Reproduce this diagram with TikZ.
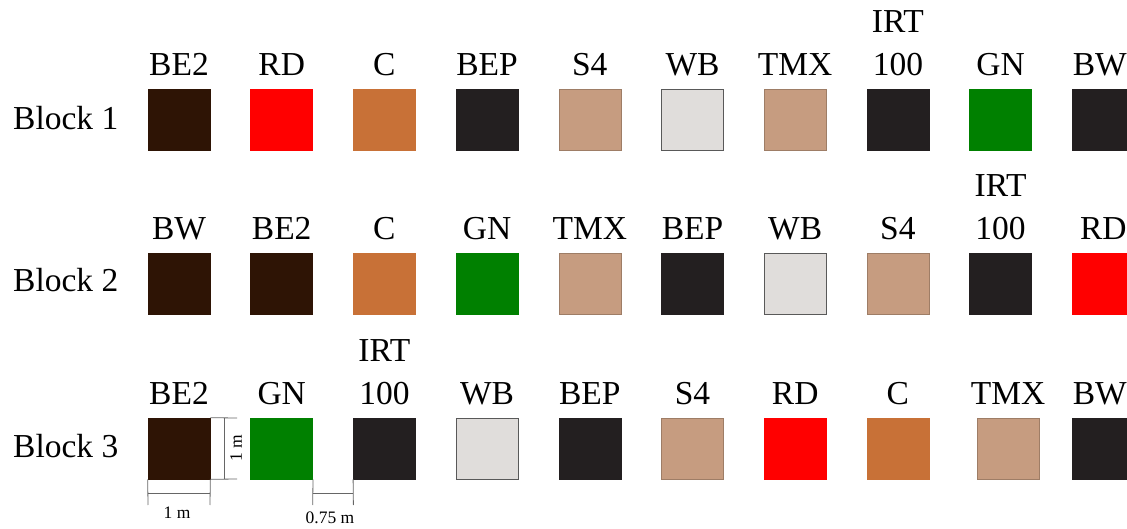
\documentclass[tikz,border=0pt]{standalone}
\usepackage{fontspec}
\setmainfont{Liberation Serif}
\usetikzlibrary{positioning}
\definecolor{be2col}{RGB}{46,20,5}
\definecolor{rdcol}{RGB}{255,0,0}
\definecolor{ccol}{RGB}{200,113,55}
\definecolor{blkcol}{RGB}{35,31,32}
\definecolor{tancol}{RGB}{198,156,128}
\definecolor{wbcol}{RGB}{224,221,219}
\definecolor{gncol}{RGB}{0,128,0}

\begin{document}
\begin{tikzpicture}[x=1pt,y=-1pt,
		plot/.style={minimum width=62pt, minimum height=61pt, inner sep=0pt, line width=0.6pt},
		be2/.style={plot, fill=be2col, draw=be2col},
		rd/.style={plot, fill=rdcol, draw=rdcol},
		cc/.style={plot, fill=ccol, draw=ccol},
		dark/.style={plot, fill=blkcol, draw=blkcol},
		tan/.style={plot, fill=tancol, draw=tancol!80!black},
		wb/.style={plot, fill=wbcol, draw=black!65},
		gn/.style={plot, fill=gncol, draw=gncol},
		lab/.style={font=\fontsize{33.5}{43}\selectfont, inner sep=0pt, text depth=0pt, align=center},
		blocklab/.style={font=\fontsize{33.5}{38}\selectfont, inner sep=0pt, anchor=base west},
		dim/.style={draw=black!60, line width=0.8pt},
		dimtxt/.style={font=\fontsize{17.5}{20}\selectfont, inner sep=0pt, anchor=base}]
		\useasboundingbox (0,0) rectangle (1127,529);

		% Block 1
		\draw (13,130) node [blocklab] (blk1) {Block 1};
		\draw (179,119.5) node [be2] (b1p1) {};
		\draw (281.7,119.5) node [rd] (b1p2) {};
		\draw (384.4,119.5) node [cc] (b1p3) {};
		\draw (487.1,119.5) node [dark] (b1p4) {};
		\draw (589.8,119.5) node [tan] (b1p5) {};
		\draw (692.5,119.5) node [wb] (b1p6) {};
		\draw (795.2,119.5) node [tan] (b1p7) {};
		\draw (897.9,119.5) node [dark] (b1p8) {};
		\draw (1000.6,119.5) node [gn] (b1p9) {};
		\draw (1103.3,119.5) node [dark] (b1p10) {};
		\node [lab, above=13pt of b1p1] (b1t1) {BE2};
		\node [lab, above=13pt of b1p2] (b1t2) {RD};
		\node [lab, above=13pt of b1p3] (b1t3) {C};
		\node [lab, above=13pt of b1p4] (b1t4) {BEP};
		\node [lab, above=13pt of b1p5] (b1t5) {S4};
		\node [lab, above=13pt of b1p6] (b1t6) {WB};
		\node [lab, above=13pt of b1p7] (b1t7) {TMX};
		\node [lab, above=13pt of b1p8] (b1t8) {IRT\\100};
		\node [lab, above=13pt of b1p9] (b1t9) {GN};
		\node [lab, above right=13pt and -62pt of b1p10.north east] (b1t10) {BW};

		% Block 2
		\draw (13,292) node [blocklab] (blk2) {Block 2};
		\draw (179,284) node [be2] (b2p1) {};
		\draw (281.7,284) node [be2] (b2p2) {};
		\draw (384.4,284) node [cc] (b2p3) {};
		\draw (487.1,284) node [gn] (b2p4) {};
		\draw (589.8,284) node [tan] (b2p5) {};
		\draw (692.5,284) node [dark] (b2p6) {};
		\draw (795.2,284) node [wb] (b2p7) {};
		\draw (897.9,284) node [tan] (b2p8) {};
		\draw (1000.6,284) node [dark] (b2p9) {};
		\draw (1103.3,284) node [rd] (b2p10) {};
		\node [lab, above=13pt of b2p1] (b2t1) {BW};
		\node [lab, above=13pt of b2p2] (b2t2) {BE2};
		\node [lab, above=13pt of b2p3] (b2t3) {C};
		\node [lab, above=13pt of b2p4] (b2t4) {GN};
		\node [lab, above=13pt of b2p5] (b2t5) {TMX};
		\node [lab, above=13pt of b2p6] (b2t6) {BEP};
		\node [lab, above=13pt of b2p7] (b2t7) {WB};
		\node [lab, above=13pt of b2p8] (b2t8) {S4};
		\node [lab, above=13pt of b2p9] (b2t9) {IRT\\100};
		\node [lab, above=13pt of b2p10] (b2t10) {RD};

		% Block 3
		\draw (13,457) node [blocklab] (blk3) {Block 3};
		\draw (179,448.5) node [be2] (b3p1) {};
		\draw (281.7,448.5) node [gn] (b3p2) {};
		\draw (384.4,448.5) node [dark] (b3p3) {};
		\draw (487.1,448.5) node [wb] (b3p4) {};
		\draw (589.8,448.5) node [dark] (b3p5) {};
		\draw (692.5,448.5) node [tan] (b3p6) {};
		\draw (795.2,448.5) node [rd] (b3p7) {};
		\draw (897.9,448.5) node [cc] (b3p8) {};
		\draw (1008,448.5) node [tan] (b3p9) {};
		\draw (1103.3,448.5) node [dark] (b3p10) {};
		\node [lab, above=13pt of b3p1] (b3t1) {BE2};
		\node [lab, above=13pt of b3p2] (b3t2) {GN};
		\node [lab, above=13pt of b3p3] (b3t3) {IRT\\100};
		\node [lab, above=13pt of b3p4] (b3t4) {WB};
		\node [lab, above=13pt of b3p5] (b3t5) {BEP};
		\node [lab, above=13pt of b3p6] (b3t6) {S4};
		\node [lab, above=13pt of b3p7] (b3t7) {RD};
		\node [lab, above=13pt of b3p8] (b3t8) {C};
		\node [lab, above=13pt of b3p9] (b3t9) {TMX};
		\node [lab, above right=13pt and -62pt of b3p10.north east] (b3t10) {BW};

		% dimensions
		\coordinate (v1) at (237,418);
		\coordinate (v2) at (237,479);
		\draw [dim] (b3p1.north east) -- (v1) (b3p1.south east) -- (v2);
		\draw [dim] (224,418) -- (224,479);
		\draw (236,448.5) node [dimtxt, anchor=center, rotate=90] (d1) {1 m};
		\coordinate (h1) at (148,505);
		\coordinate (h2) at (210,505);
		\draw [dim] (b3p1.south west) -- (h1) (b3p1.south east) -- (h2);
		\draw [dim] (148,493) -- (210,493);
		\draw (177,518) node [dimtxt] (d2) {1 m};
		\coordinate (h3) at (312.7,505);
		\coordinate (h4) at (353.4,505);
		\draw [dim] (b3p2.south east) -- (h3) (b3p3.south west) -- (h4);
		\draw [dim] (312.7,493) -- (353.4,493);
		\draw (330,523) node [dimtxt] (d3) {0.75 m};
\end{tikzpicture}
\end{document}
